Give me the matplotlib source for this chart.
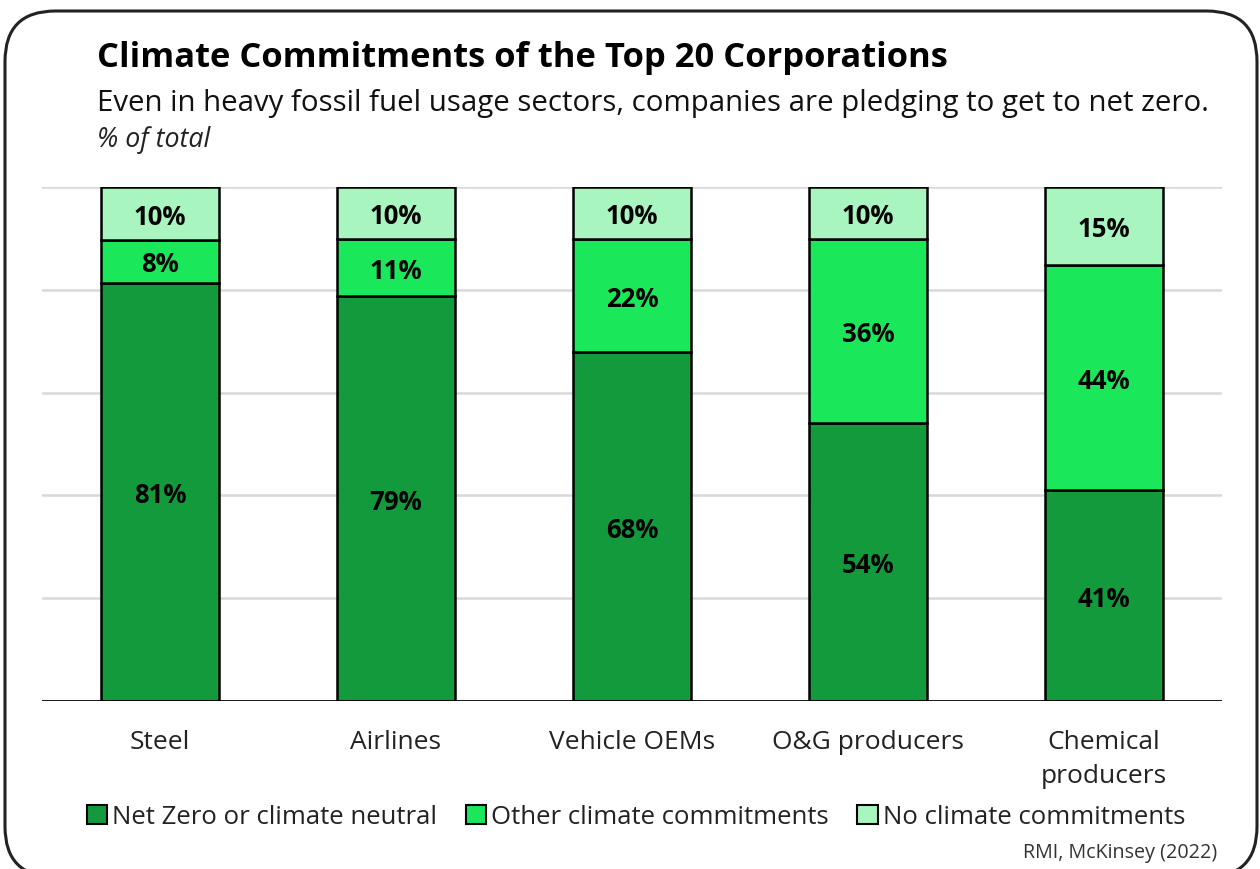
"""Climate commitments of the top 20 corporations, stacked 100% bars."""

import matplotlib.pyplot as plt
from matplotlib.patches import FancyBboxPatch, Patch

plt.rcParams["font.family"] = ["Open Sans", "DejaVu Sans"]

sectors = ["Steel", "Airlines", "Vehicle OEMs", "O&G producers", "Chemical\nproducers"]
net_zero = [81.4, 78.8, 67.9, 54.1, 41.0]
other = [8.3, 11.1, 22.0, 35.8, 43.8]
none = [10.3, 10.1, 10.1, 10.1, 15.2]

series_names = ["Net Zero or climate neutral", "Other climate commitments", "No climate commitments"]
colors = ["#139a3c", "#1ae85a", "#a8f5c0"]

fig = plt.figure(figsize=(12.6, 8.7), dpi=100)

# rounded frame round the whole card
frame = FancyBboxPatch((5 / 1260, -8 / 870), 1252 / 1260, 866 / 870,
                       boxstyle="round,pad=0,rounding_size=0.04",
                       transform=fig.transFigure, fill=False,
                       edgecolor="#222222", linewidth=2.2, clip_on=False,
                       mutation_aspect=1260 / 870)
fig.patches.append(frame)

ax = fig.add_axes([42 / 1260, 1 - 702 / 870, 1180 / 1260, 514 / 870])

x = range(len(sectors))
bottom = [0.0] * len(sectors)
for vals, col in zip([net_zero, other, none], colors):
    ax.bar(x, vals, bottom=bottom, width=0.5, color=col,
           edgecolor="black", linewidth=1.8, zorder=3)
    for xi, v, b in zip(x, vals, bottom):
        ax.text(xi, b + v / 2 - 0.5, f"{v:.0f}%", ha="center", va="center",
                fontsize=18.5, fontweight="bold", zorder=4)
    bottom = [b + v for b, v in zip(bottom, vals)]

ax.set_xlim(-0.5, len(sectors) - 0.5)
ax.set_ylim(0, 100)
for y in [20, 40, 60, 80, 100]:
    ax.axhline(y, color="#d9d9d9", linewidth=1.8, zorder=1)
ax.axhline(0, color="black", linewidth=2, zorder=4)

for s in ax.spines.values():
    s.set_visible(False)
ax.set_yticks([])
ax.set_xticks(list(x))
ax.set_xticklabels(sectors, fontsize=19, color="#222222", linespacing=1.5)
ax.tick_params(axis="x", length=0, pad=20)

fig.text(97 / 1260, 1 - 58 / 870, "Climate Commitments of the Top 20 Corporations",
         fontsize=24.8, fontweight="bold", va="center", ha="left")
fig.text(97 / 1260, 1 - 104 / 870,
         "Even in heavy fossil fuel usage sectors, companies are pledging to get to net zero.",
         fontsize=21.2, va="center", ha="left", color="#111111")
fig.text(97 / 1260, 1 - 140 / 870, "% of total", fontsize=19.3, style="italic",
         va="center", ha="left", color="#222222")

handles = [Patch(facecolor=c, edgecolor="black", linewidth=1.5) for c in colors]
fig.legend(handles, series_names, loc="center", bbox_to_anchor=(636 / 1260, 1 - 818 / 870),
           ncol=3, frameon=False, fontsize=18.5, handlelength=0.8, handleheight=0.8,
           handletextpad=0.2, columnspacing=1.1, labelcolor="#222222")

fig.text(1217 / 1260, 1 - 853 / 870, "RMI, McKinsey (2022)", fontsize=14.2,
         ha="right", va="center", color="#333333")

fig.savefig("out.png", dpi=100)
